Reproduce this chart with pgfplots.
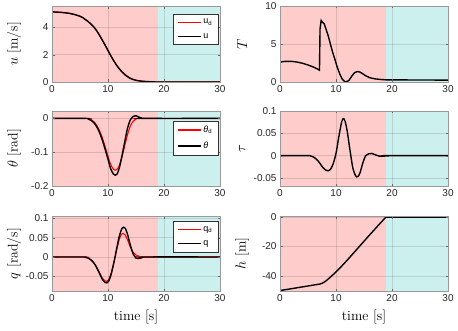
\documentclass[border=0pt]{standalone}
\usepackage{fontspec}
\usepackage{pgfplots}
\pgfplotsset{compat=1.18}
\newfontfamily\hv{Liberation Sans}

\definecolor{bgred}{RGB}{255,204,204}
\definecolor{bgcyan}{RGB}{204,240,238}
\definecolor{ref}{RGB}{255,0,0}

\pgfplotsset{
  panel/.style={
    scale only axis,
    width=168pt,
    xmin=0, xmax=30,
    xtick={0,10,20,30},
    grid=major,
    grid style={black, opacity=0.12, line width=0.4pt},
    axis on top,
    axis line style={black!40},
    tick style={black!60},
    tick align=inside,
    major tick length=2.5pt,
    tick label style={font=\hv\fontsize{10}{12}\selectfont, text=black!85},
    /pgf/number format/assume math mode=true,
    /pgf/number format/fixed,
    /pgf/number format/precision=2,
    label style={font=\fontsize{14}{16}\selectfont},
    ylabel style={at={(axis description cs:-0.225,0.5)}, anchor=center},
    xlabel style={at={(axis description cs:0.5,-0.35)}, anchor=center},
    legend style={font=\hv\fontsize{9}{10}\selectfont, draw=black!80, fill=white,
      anchor=north east, row sep=4pt, inner xsep=4pt, inner ysep=3pt},
    legend cell align=left,
    legend image code/.code={\draw[#1] (0pt,0pt) -- (23pt,0pt);},
  },
}

% shaded phases: #1 = ymin, #2 = ymax
\newcommand{\bg}[2]{%
  \addplot[fill=bgred, draw=none, forget plot] coordinates {(0,#1) (19,#1) (19,#2) (0,#2)};
  \addplot[fill=bgcyan, draw=none, forget plot] coordinates {(19,#1) (30,#1) (30,#2) (19,#2)};
}

\begin{document}
\begin{tikzpicture}
\useasboundingbox (0,0) rectangle (458pt,330pt);

% ---- u
\begin{axis}[panel, at={(52pt,248pt)}, anchor=south west, height=76pt,
  ymin=0, ymax=5.55, ytick={0,2,4},
  ylabel={$u$ [m/s]},
  legend style={at={(axis description cs:0.99,0.895)}}]
\bg{0}{5.55}
\addplot[ref, line width=1.1pt, smooth] coordinates {
  (0,5.12) (1,5.10) (2,5.07) (3,5.02) (4,4.93) (5,4.80) (5.5,4.70) (6,4.55)
  (6.5,4.40) (7,4.22) (7.5,4.00) (8,3.73) (8.5,3.40) (9,3.05) (9.5,2.68)
  (10,2.30) (10.5,1.92) (11,1.57) (11.5,1.25) (12,0.98) (12.5,0.76)
  (13,0.57) (13.5,0.41) (14,0.28) (14.5,0.19) (15,0.13) (16,0.06)
  (17,0.03) (18,0.01) (19,0) (30,0)};
\addlegendentry{u\textsubscript{d}}
\addplot[black, line width=1.4pt, smooth] coordinates {
  (0,5.12) (1,5.10) (2,5.07) (3,5.02) (4,4.93) (5,4.80) (5.5,4.70) (6,4.55)
  (6.5,4.40) (7,4.22) (7.5,4.00) (8,3.73) (8.5,3.40) (9,3.05) (9.5,2.68)
  (10,2.30) (10.5,1.92) (11,1.57) (11.5,1.25) (12,0.97) (12.5,0.73)
  (13,0.53) (13.5,0.38) (14,0.26) (14.5,0.18) (15,0.12) (16,0.06)
  (17,0.03) (18,0.01) (19,0) (30,0)};
\addlegendentry{u}
\end{axis}

% ---- theta
\begin{axis}[panel, at={(52pt,144pt)}, anchor=south west, height=75pt,
  ymin=-0.2, ymax=0.022, ytick={-0.2,-0.1,0},
  ylabel={$\theta$ [rad]},
  legend style={at={(axis description cs:0.99,0.87)}}]
\bg{-0.2}{0.022}
\addplot[ref, line width=1.1pt, smooth] coordinates {
  (0,0) (6.5,0) (7,-0.004) (7.5,-0.010) (8,-0.021) (8.5,-0.037) (9,-0.058)
  (9.5,-0.084) (10,-0.112) (10.5,-0.137) (11,-0.151) (11.3,-0.153)
  (11.6,-0.151) (12,-0.140) (12.5,-0.114) (13,-0.080) (13.5,-0.047)
  (14,-0.022) (14.5,-0.008) (15,-0.002) (16,0) (30,0)};
\addlegendentry{\textit{θ}\textsubscript{d}}
\addplot[black, line width=1.4pt, smooth] coordinates {
  (0,0) (6,0) (6.5,-0.002) (7,-0.006) (7.5,-0.013) (8,-0.025) (8.5,-0.042)
  (9,-0.065) (9.5,-0.092) (10,-0.121) (10.5,-0.150) (11,-0.165)
  (11.3,-0.168) (11.6,-0.165) (12,-0.148) (12.5,-0.110) (13,-0.068)
  (13.5,-0.028) (14,-0.004) (14.5,0.006) (15,0.008) (15.5,0.004)
  (16,0.001) (17,0) (30,0)};
\addlegendentry{\textit{θ}}
\end{axis}

% ---- q
\begin{axis}[panel, at={(52pt,39pt)}, anchor=south west, height=75pt,
  ymin=-0.088, ymax=0.106, ytick={-0.05,0,0.05,0.1},
  ylabel={$q$ [rad/s]}, xlabel={time [s]},
  legend style={at={(axis description cs:0.99,0.933)}}]
\bg{-0.088}{0.106}
\addplot[ref, line width=1.1pt, smooth] coordinates {
  (0,0) (6,0) (6.5,-0.003) (7,-0.008) (7.5,-0.016) (8,-0.027) (8.5,-0.041)
  (9,-0.055) (9.5,-0.062) (9.8,-0.063) (10.1,-0.059) (10.5,-0.045)
  (11,-0.017) (11.5,0.015) (12,0.045) (12.4,0.059) (12.7,0.061)
  (13,0.058) (13.5,0.044) (14,0.025) (14.5,0.012) (15,0.005) (15.5,0.002)
  (16,0) (30,0)};
\addlegendentry{q\textsubscript{d}}
\addplot[black, line width=1.4pt, smooth] coordinates {
  (0,0) (5.5,0) (6,-0.001) (6.5,-0.003) (7,-0.008) (7.5,-0.016) (8,-0.028)
  (8.5,-0.043) (9,-0.058) (9.5,-0.066) (9.8,-0.067) (10.1,-0.063)
  (10.5,-0.048) (11,-0.018) (11.5,0.018) (12,0.053) (12.5,0.074)
  (12.8,0.077) (13.1,0.074) (13.5,0.058) (14,0.030) (14.5,0.008)
  (15,-0.003) (15.5,-0.004) (16,-0.002) (17,0) (30,0)};
\addlegendentry{q}
\end{axis}

% ---- T
\begin{axis}[panel, at={(280pt,248pt)}, anchor=south west, height=76pt,
  ymin=0, ymax=10, ytick={0,5,10},
  ylabel={$T$}]
\bg{0}{10}
\addplot[black, line width=1.4pt] coordinates {
  (0,2.60) (0.5,2.68) (1,2.72) (2,2.72) (3,2.63) (4,2.47) (5,2.24)
  (6,1.96) (6.6,1.74) (7.05,1.55) (7.15,7.0) (7.35,8.1) (7.6,7.85)
  (7.9,7.65) (8.2,7.0) (8.6,6.1) (9,5.0) (9.4,3.9) (9.8,3.0) (10.2,2.0)
  (10.7,1.0) (11.1,0.4) (11.5,0.08) (11.9,0.04) (12.3,0.2) (12.8,0.75)
  (13.3,1.22) (13.8,1.38) (14.3,1.3) (14.8,1.07) (15.3,0.82) (16,0.57)
  (17,0.41) (18,0.33) (19,0.28) (30,0.25)};
\end{axis}

% ---- tau
\begin{axis}[panel, at={(280pt,144pt)}, anchor=south west, height=75pt,
  ymin=-0.068, ymax=0.1, ytick={-0.05,0,0.05,0.1},
  ylabel={$\tau$}]
\bg{-0.068}{0.1}
\addplot[black, line width=1.4pt, smooth] coordinates {
  (0,0) (5,0) (5.5,-0.001) (6,-0.003) (6.5,-0.008) (7,-0.015) (7.5,-0.024)
  (8,-0.031) (8.6,-0.034) (9,-0.031) (9.5,-0.018) (10,0.005) (10.5,0.042)
  (11,0.075) (11.3,0.083) (11.6,0.078) (12,0.055) (12.5,0.012)
  (13,-0.027) (13.5,-0.045) (13.9,-0.047) (14.3,-0.038) (14.8,-0.016)
  (15.3,0) (15.8,0.004) (16.4,0.005) (17,0.002) (17.7,-0.001)
  (18.5,-0.001) (19,0) (30,0)};
\end{axis}

% ---- h
\begin{axis}[panel, at={(280pt,39pt)}, anchor=south west, height=75pt,
  ymin=-50.3, ymax=0.8, ytick={-40,-20,0},
  ylabel={$h$ [m]}, xlabel={time [s]}]
\bg{-50.3}{0.8}
\addplot[black, line width=1.4pt] coordinates {
  (0,-50) (7.2,-45.5) (7.6,-44.9) (8,-44) (8.5,-42.5) (9,-40.8)
  (9.5,-39.1) (10,-37.3) (11,-33.4) (12,-29.3) (13,-25) (14,-20.7)
  (15,-16.4) (16,-12.1) (17,-7.9) (18,-3.7) (18.9,0) (30,0)};
\end{axis}
\end{tikzpicture}
\end{document}
